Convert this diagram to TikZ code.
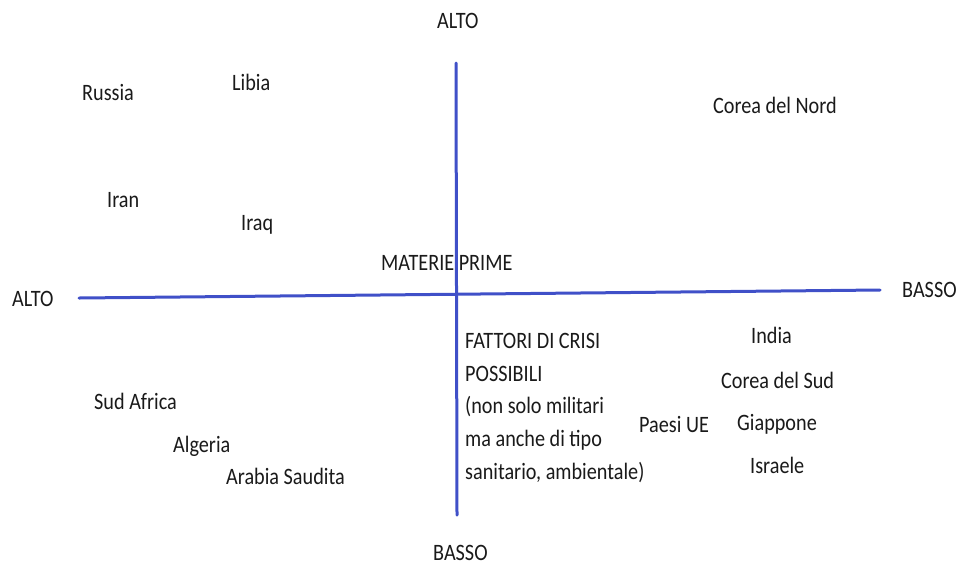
\documentclass[tikz,border=0pt]{standalone}
\usepackage{fontspec}
\setmainfont{Carlito}[FakeStretch=0.86]
\definecolor{axisblue}{RGB}{64,80,200}
\definecolor{txt}{RGB}{26,26,26}
\begin{document}
\begin{tikzpicture}[x=1pt,y=-1pt,
  lbl/.style={anchor=base west,inner sep=0pt,text=txt,font=\fontsize{23.5}{32.7}\selectfont},
  axis/.style={draw=axisblue,line width=3pt,line cap=round}]
\useasboundingbox (0,0) rectangle (960,566);
\fill[white] (0,0) rectangle (960,566);
% axes end points
\coordinate (vtop) at (456,63);
\coordinate (vbot) at (457,515);
\coordinate (hleft) at (79,298);
\coordinate (hright) at (880,290);
\draw[axis] (vtop) -- (vbot);
\draw[axis] (hleft) -- (hright);
% axis labels
\node[lbl] (altoT) at (437,28) {ALTO};
\node[lbl] (bassoB) at (433,560) {BASSO};
\node[lbl] (altoL) at (12,306) {ALTO};
\node[lbl] (bassoR) at (902,297) {BASSO};
% countries
\node[lbl] (russia) at (82,100) {Russia};
\node[lbl] (libia) at (232,90) {Libia};
\node[lbl] (iran) at (107,207) {Iran};
\node[lbl] (iraq) at (241,230) {Iraq};
\node[lbl] (materie) at (381,270) {MATERIE PRIME};
\node[lbl] (nord) at (713,113) {Corea del Nord};
\node[lbl] (sudafrica) at (94,409) {Sud Africa};
\node[lbl] (algeria) at (173,452) {Algeria};
\node[lbl] (arabia) at (226,484) {Arabia Saudita};
\node[lbl] (india) at (751,343) {India};
\node[lbl] (coreasud) at (721,388) {Corea del Sud};
\node[lbl] (paesiue) at (639,432) {Paesi UE};
\node[lbl] (giappone) at (737,430) {Giappone};
\node[lbl] (israele) at (750,473) {Israele};
\node[lbl,anchor=north west,align=left] (fattori) at (465,333)
  {FATTORI DI CRISI\\POSSIBILI\\(non solo militari\\ma anche di tipo\\sanitario, ambientale)};
\end{tikzpicture}
\end{document}
